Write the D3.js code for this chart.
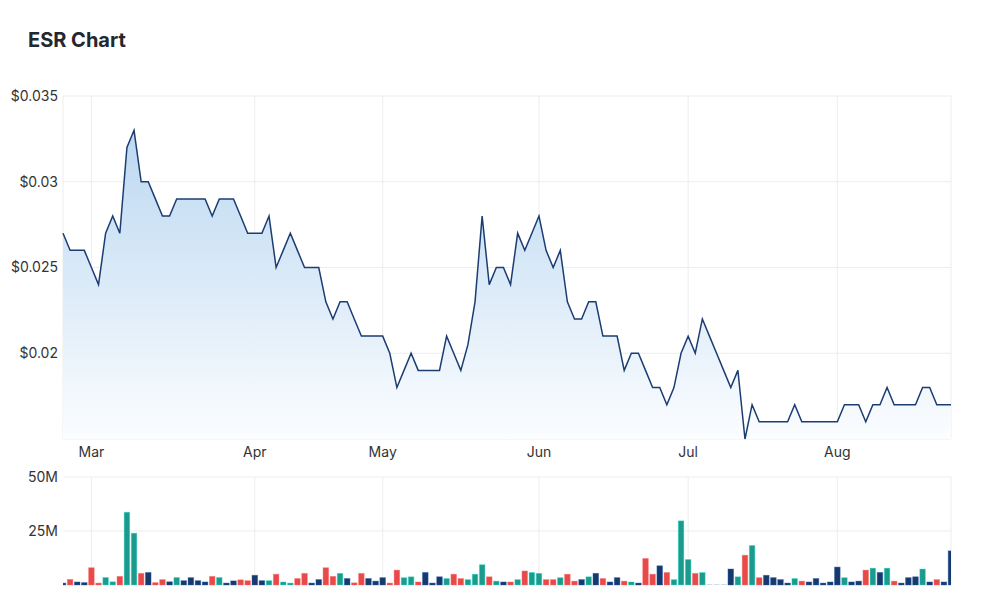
<!DOCTYPE html>
<html>
<head>
<meta charset="utf-8">
<script src="https://cdn.jsdelivr.net/npm/d3@7"></script>
<style>
  body { margin: 0; background: #fff; }
  svg { font-family: Inter, "Noto Sans", sans-serif; }
  .grid line { stroke: #ededed; stroke-width: 1; }
  .tick-label { fill: #333; font-size: 14px; }
</style>
</head>
<body>
<svg width="1000" height="607"></svg>
<script>
// trading days (2022), by month index
const tradingDays = [
    [1, [23, 24, 25, 28]],
    [2, [1, 2, 3, 4, 7, 8, 9, 10, 11, 14, 15, 16, 17, 18, 21, 22, 23, 24, 25, 28, 29, 30, 31]],
    [3, [1, 4, 5, 6, 7, 8, 11, 12, 13, 14, 19, 20, 21, 22, 26, 27, 28, 29]],
    [4, [2, 3, 4, 5, 6, 9, 10, 11, 12, 13, 16, 17, 18, 19, 20, 23, 24, 25, 26, 27, 30, 31]],
    [5, [1, 2, 3, 6, 7, 8, 9, 10, 14, 15, 16, 17, 20, 21, 22, 23, 24, 27, 28, 29, 30]],
    [6, [1, 4, 5, 6, 7, 8, 11, 12, 13, 14, 15, 18, 19, 20, 21, 22, 25, 26, 27, 28, 29]],
    [7, [1, 2, 3, 4, 5, 8, 9, 10, 11, 12, 15, 16, 17, 18, 19, 22, 23]]
];

const prices = [
    0.027, 0.026, 0.026, 0.026, 0.025, 0.024, 0.027, 0.028, 0.027, 0.032,
    0.033, 0.030, 0.030, 0.029, 0.028, 0.028, 0.029, 0.029, 0.029, 0.029,
    0.029, 0.028, 0.029, 0.029, 0.029, 0.028, 0.027, 0.027, 0.027, 0.028,
    0.025, 0.026, 0.027, 0.026, 0.025, 0.025, 0.025, 0.023, 0.022, 0.023,
    0.023, 0.022, 0.021, 0.021, 0.021, 0.021, 0.020, 0.018, 0.019, 0.020,
    0.019, 0.019, 0.019, 0.019, 0.021, 0.020, 0.019, 0.0205, 0.023, 0.028,
    0.024, 0.025, 0.025, 0.024, 0.027, 0.026, 0.027, 0.028, 0.026, 0.025,
    0.026, 0.023, 0.022, 0.022, 0.023, 0.023, 0.021, 0.021, 0.021, 0.019,
    0.020, 0.020, 0.019, 0.018, 0.018, 0.017, 0.018, 0.020, 0.021, 0.020,
    0.022, 0.021, 0.020, 0.019, 0.018, 0.019, 0.015, 0.017, 0.016, 0.016,
    0.016, 0.016, 0.016, 0.017, 0.016, 0.016, 0.016, 0.016, 0.016, 0.016,
    0.017, 0.017, 0.017, 0.016, 0.017, 0.017, 0.018, 0.017, 0.017, 0.017,
    0.017, 0.018, 0.018, 0.017, 0.017, 0.017
];

// volume in millions of shares
const volumes = [
    0.9, 2.6, 1.4, 1.1, 8.0, 0.9, 3.5, 1.5, 4.0, 33.7,
    24.0, 5.4, 5.8, 1.1, 2.5, 1.5, 3.5, 2.0, 3.4, 2.0,
    1.4, 4.0, 3.5, 0.9, 1.9, 2.4, 2.0, 4.5, 2.0, 2.0,
    5.0, 1.4, 0.9, 3.0, 5.4, 0.9, 2.5, 8.0, 4.0, 5.4,
    3.0, 1.0, 5.4, 3.0, 1.8, 3.4, 0.9, 6.9, 3.4, 3.8,
    1.4, 5.8, 0.9, 3.8, 3.0, 5.0, 3.0, 2.5, 5.0, 9.4,
    3.8, 1.8, 1.4, 1.4, 2.5, 6.5, 5.8, 5.4, 2.5, 2.5,
    3.4, 5.0, 1.8, 2.5, 3.8, 5.4, 3.0, 1.4, 3.4, 1.8,
    1.4, 0.9, 12.3, 5.0, 8.9, 5.8, 2.5, 29.7, 11.8, 5.4,
    5.8, 0, 0, 0, 7.4, 3.8, 13.8, 18.3, 3.4, 4.5,
    3.4, 2.5, 0.9, 3.0, 1.8, 1.4, 3.0, 0.9, 1.4, 8.3,
    3.4, 1.4, 1.8, 6.9, 7.8, 5.8, 7.8, 1.8, 0.9, 3.4,
    3.8, 7.4, 1.4, 2.5, 1.4, 15.8
];

// day direction: u = up, d = down, f = flat, n = no trades
const moves = (
    "fdffdduudu" + "udfddfufff" + "fduffddffu" + "duuddffddu" +
    "fddfffdduu" + "dfffudduuu" + "dufduduudd" + "uddfufdffd" +
    "ufddfduuud" + "unnnfududf" + "fffudfffff" + "uffdufudff" +
    "fufdff"
).split("");

const priceTicks = [0.02, 0.025, 0.03, 0.035];
const volumeTicks = [25, 50];

const dates = [];
tradingDays.forEach(([m, days]) => days.forEach(d => dates.push(new Date(2022, m, d))));

const data = dates.map((date, i) => ({
    i, date, price: prices[i], volume: volumes[i], move: moves[i]
}));

const moveColor = { u: "#1e9a8c", d: "#e84a4a", f: "#173a6e", n: "#b7c3d6" };

const svg = d3.select("svg");
const left = 63, right = 951;
const priceTop = 96, priceBottom = 439;
const volTop = 477, volBottom = 585;

const x = d3.scaleLinear().domain([0, data.length - 1]).range([left, right]);
const y = d3.scaleLinear().domain([0.015, 0.035]).range([priceBottom, priceTop]);
const yv = d3.scaleLinear().domain([0, 50]).range([volBottom, volTop]);

// first trading day of each month
const monthStarts = data.filter((d, i) => i > 0 && d.date.getMonth() !== data[i - 1].date.getMonth());

svg.append("text")
    .attr("x", 28).attr("y", 47)
    .attr("font-size", 20).attr("font-weight", 700)
    .attr("fill", "#23272e")
    .text("ESR Chart");

const defs = svg.append("defs");
const grad = defs.append("linearGradient")
    .attr("id", "areaFill")
    .attr("gradientUnits", "userSpaceOnUse")
    .attr("x1", 0).attr("x2", 0)
    .attr("y1", y(0.033)).attr("y2", priceBottom);
grad.append("stop").attr("offset", "0%").attr("stop-color", "#bcd8f1");
grad.append("stop").attr("offset", "100%").attr("stop-color", "#fbfdff");

defs.append("clipPath").attr("id", "volClip")
    .append("rect")
    .attr("x", left).attr("y", volTop - 5)
    .attr("width", right - left).attr("height", volBottom - volTop + 10);

// price panel grid
const grid = svg.append("g").attr("class", "grid");
grid.selectAll(".hp")
    .data(priceTicks)
    .enter().append("line")
    .attr("x1", left).attr("x2", right)
    .attr("y1", d => y(d)).attr("y2", d => y(d));
grid.append("line").attr("x1", left).attr("x2", right).attr("y1", priceBottom).attr("y2", priceBottom);
grid.append("line").attr("x1", left).attr("x2", left).attr("y1", priceTop).attr("y2", priceBottom);
grid.append("line").attr("x1", right).attr("x2", right).attr("y1", priceTop).attr("y2", priceBottom);
grid.selectAll(".vp")
    .data(monthStarts)
    .enter().append("line")
    .attr("x1", d => x(d.i)).attr("x2", d => x(d.i))
    .attr("y1", priceTop).attr("y2", priceBottom);

// volume panel grid
grid.selectAll(".hv")
    .data(volumeTicks)
    .enter().append("line")
    .attr("x1", left).attr("x2", right)
    .attr("y1", d => yv(d)).attr("y2", d => yv(d));
grid.selectAll(".vv")
    .data(monthStarts)
    .enter().append("line")
    .attr("x1", d => x(d.i)).attr("x2", d => x(d.i))
    .attr("y1", volTop).attr("y2", volBottom);
grid.append("line").attr("x1", right).attr("x2", right).attr("y1", volTop).attr("y2", volBottom);

// price area + line
const area = d3.area()
    .x(d => x(d.i))
    .y0(priceBottom)
    .y1(d => y(d.price));
const line = d3.line()
    .x(d => x(d.i))
    .y(d => y(d.price));

svg.append("path")
    .datum(data)
    .attr("d", area)
    .attr("fill", "url(#areaFill)");

svg.append("path")
    .datum(data)
    .attr("d", line)
    .attr("fill", "none")
    .attr("stroke", "#1c3d72")
    .attr("stroke-width", 1.5);

// volume bars
const barW = 5.6;
svg.append("g")
    .attr("clip-path", "url(#volClip)")
    .selectAll("rect")
    .data(data)
    .enter().append("rect")
    .attr("x", d => x(d.i) - barW / 2)
    .attr("width", barW)
    .attr("y", d => Math.min(yv(d.volume), volBottom - 1))
    .attr("height", d => Math.max(volBottom - yv(d.volume), 1))
    .attr("fill", d => moveColor[d.move])
    .attr("stroke", d => d3.color(moveColor[d.move]).brighter(1.2).copy({ opacity: 0.5 }))
    .attr("stroke-width", 0.8);

// axis labels
svg.selectAll(".py")
    .data(priceTicks)
    .enter().append("text")
    .attr("class", "tick-label")
    .attr("x", left - 5)
    .attr("y", d => y(d))
    .attr("dy", "0.35em")
    .attr("text-anchor", "end")
    .text(d => "$" + (+d.toFixed(3)));

svg.selectAll(".vy")
    .data(volumeTicks)
    .enter().append("text")
    .attr("class", "tick-label")
    .attr("x", left - 5)
    .attr("y", d => yv(d))
    .attr("dy", "0.35em")
    .attr("text-anchor", "end")
    .text(d => d + "M");

svg.selectAll(".mx")
    .data(monthStarts)
    .enter().append("text")
    .attr("class", "tick-label")
    .attr("x", d => x(d.i))
    .attr("y", 457)
    .attr("text-anchor", "middle")
    .text(d => d3.timeFormat("%b")(d.date));
</script>
</body>
</html>
